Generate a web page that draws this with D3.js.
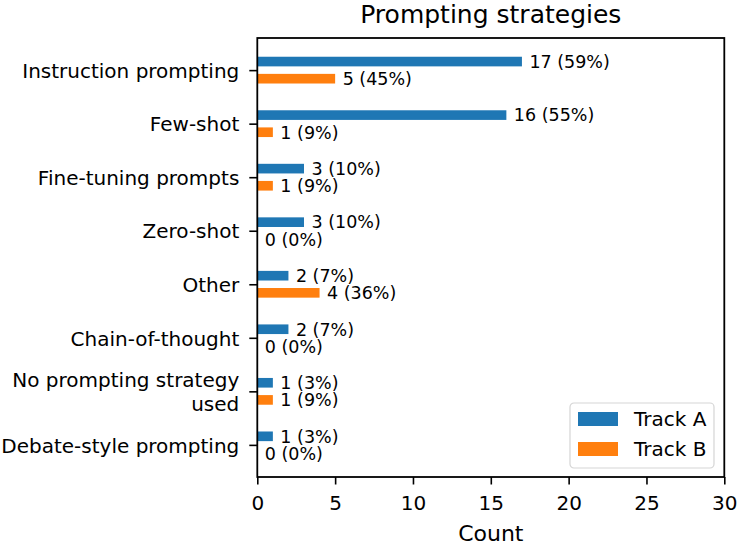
<!DOCTYPE html>
<html>
<head>
<meta charset="utf-8">
<script src="https://cdn.jsdelivr.net/npm/d3@7"></script>
<style>
  body { margin: 0; background: #fff; }
  svg, svg text { font-family: "DejaVu Sans", sans-serif; }
  svg { display: block; }
  .frame { fill: none; stroke: #000; stroke-width: 1.8; }
  .axis path { display: none; }
  .axis line { stroke: #000; stroke-width: 1.6; }
  .axis text { font-family: "DejaVu Sans", sans-serif; font-size: 20px; fill: #000; }
  .bar-label { font-size: 17.5px; fill: #000; }
  .title { font-size: 25px; }
  .axis-title { font-size: 22px; }
  .legend-label { font-size: 20px; }
</style>
</head>
<body>
<div id="graph"></div>
<script>
const graphWidth = 739;
const graphHeight = 545;

const plotLeft = 257.3;
const plotRight = 724.3;
const plotTop = 38;
const plotBottom = 477;

const categories = [
  'Instruction prompting',
  'Few-shot',
  'Fine-tuning prompts',
  'Zero-shot',
  'Other',
  'Chain-of-thought',
  'No prompting strategy used',
  'Debate-style prompting'
];

const seriesNames = ['Track A', 'Track B'];
const trackA = [17, 16, 3, 3, 2, 2, 1, 1];
const trackB = [5, 1, 1, 0, 4, 0, 1, 0];
const trackAPct = [59, 55, 10, 10, 7, 7, 3, 3];
const trackBPct = [45, 9, 9, 0, 36, 0, 9, 0];
const xTicks = [0, 5, 10, 15, 20, 25, 30];

const colors = ['#1f77b4', '#ff7f0e'];
const barHeight = 0.18;
const barOffset = 0.16;

const x = d3.scaleLinear().domain([0, 30]).range([plotLeft, plotRight]);
const y = d3.scaleLinear().domain([-0.6, categories.length - 0.4]).range([plotTop, plotBottom]);

function makeGraph() {
  const palette = makePalette('#graph', graphWidth, graphHeight);
  const series = [
    { name: seriesNames[0], values: trackA, pct: trackAPct, color: colors[0], shift: -barOffset },
    { name: seriesNames[1], values: trackB, pct: trackBPct, color: colors[1], shift: barOffset }
  ];
  series.forEach(s => makeBars(palette.append('g'), s));
  makeXAxis(palette);
  makeYAxis(palette);
  makeFrame(palette);
  makeTitles(palette);
  makeLegend(palette, series);
}

function makePalette(sel, width, height) {
  return d3.select(sel).append('svg').attr('width', width).attr('height', height);
}

function makeBars(elm, s) {
  const rows = s.values.map((v, i) => ({ v, i, p: s.pct[i] }));
  construct(elm, rows, 'rect')
    .attr('x', x(0))
    .attr('y', d => y(d.i + s.shift - barHeight / 2))
    .attr('width', d => x(d.v) - x(0))
    .attr('height', y(barHeight) - y(0))
    .attr('fill', s.color);
  elm.selectAll('text').data(rows).enter().append('text')
    .attr('class', 'bar-label')
    .attr('x', d => x(d.v) + 7.5)
    .attr('y', d => y(d.i + s.shift))
    .attr('dy', '0.36em')
    .text(d => d.v + ' (' + d.p + '%)');
}

function makeXAxis(svg) {
  const g = svg.append('g')
    .attr('class', 'axis')
    .attr('transform', translate(0, plotBottom))
    .call(d3.axisBottom(x).tickValues(xTicks).tickSize(7.5).tickPadding(11).tickFormat(d3.format('d')));
  g.attr('font-family', null).attr('font-size', null);
  g.selectAll('text').attr('dy', '0.71em');
}

function makeYAxis(svg) {
  const g = svg.append('g')
    .attr('class', 'axis')
    .attr('transform', translate(plotLeft, 0))
    .call(d3.axisLeft(y).tickValues(d3.range(categories.length)).tickSize(8).tickPadding(10).tickFormat(''));
  g.attr('font-family', null).attr('font-size', null);
  g.selectAll('.tick').each(function (d) {
    const lines = wrapLabel(categories[d]);
    const t = d3.select(this).select('text').text(null).attr('dy', null);
    lines.forEach((line, k) => {
      t.append('tspan')
        .attr('x', -18)
        .attr('dy', k === 0 ? (0.36 - (lines.length - 1) * 0.58) + 'em' : '1.16em')
        .text(line);
    });
  });
}

function wrapLabel(label) {
  return label === 'No prompting strategy used' ? ['No prompting strategy', 'used'] : [label];
}

function makeFrame(svg) {
  svg.append('rect')
    .attr('class', 'frame')
    .attr('x', plotLeft)
    .attr('y', plotTop)
    .attr('width', plotRight - plotLeft)
    .attr('height', plotBottom - plotTop);
}

function makeTitles(svg) {
  svg.append('text')
    .attr('class', 'title')
    .attr('text-anchor', 'middle')
    .attr('x', (plotLeft + plotRight) / 2)
    .attr('y', 23)
    .text('Prompting strategies');
  svg.append('text')
    .attr('class', 'axis-title')
    .attr('text-anchor', 'middle')
    .attr('x', (plotLeft + plotRight) / 2)
    .attr('y', 541)
    .text('Count');
}

function makeLegend(svg, series) {
  const g = svg.append('g').attr('transform', translate(570, 403));
  g.append('rect')
    .attr('width', 144)
    .attr('height', 65)
    .attr('rx', 4)
    .attr('fill', '#fff')
    .attr('fill-opacity', 0.8)
    .attr('stroke', '#d5d5d5')
    .attr('stroke-width', 1.2);
  const items = construct(g, series, 'g')
    .attr('transform', (d, i) => translate(0, 16 + i * 30));
  items.append('rect')
    .attr('x', 8)
    .attr('y', -7)
    .attr('width', 40)
    .attr('height', 14)
    .attr('fill', d => d.color);
  items.append('text')
    .attr('class', 'legend-label')
    .attr('x', 64)
    .attr('dy', '0.36em')
    .text(d => d.name);
}

// Utilities

function construct(sel, data, tag) {
  return sel.selectAll(tag).data(data).enter().append(tag);
}

function translate(x, y) {
  return 'translate(' + x + ',' + y + ')';
}

makeGraph();
</script>
</body>
</html>
